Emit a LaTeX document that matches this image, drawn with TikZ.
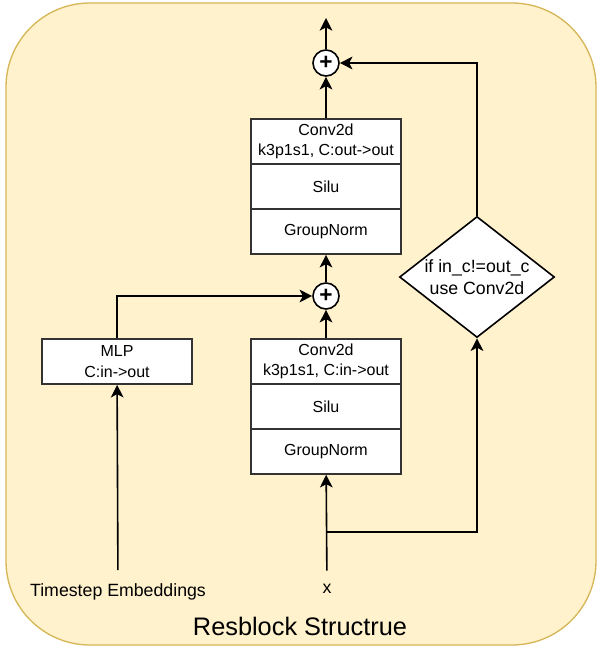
\documentclass[tikz,border=0pt]{standalone}
\usepackage{fontspec}
\setmainfont{Liberation Sans}
\usetikzlibrary{arrows.meta,shapes.geometric}
\definecolor{bgfill}{HTML}{FFF2CC}
\definecolor{bgline}{HTML}{D6B656}
\definecolor{boxline}{HTML}{333333}
\begin{document}
\begin{tikzpicture}
[   x=0.75pt,y=-0.75pt,
    every node/.style={font=\fontsize{12}{15.5}\selectfont},
    blk/.style={draw=boxline,fill=white,line width=1.2pt,minimum width=112.5pt,minimum height=33.75pt,inner sep=0pt,align=center},
    sum/.style={draw=black,fill=white,line width=1.2pt,circle,minimum size=19.5pt,inner sep=0pt,font=\fontsize{17}{17}\bfseries},
    lbl/.style={inner sep=10pt,font=\fontsize{13.3}{16}\selectfont},
    arr/.style={line width=1.2pt,-{Stealth[length=9.5pt,width=9.5pt,inset=2.5pt]}},
]
    \useasboundingbox (0,0) rectangle (601,649);
    \draw[draw=bgline,fill=bgfill,line width=1pt,rounded corners=63pt] (6,3) rectangle (596,645);
    \foreach \n/\y/\c in {1/339/in,2/119/out}
    {   \node[blk] (conv-\n) at (326,{\y+22.5}) {Conv2d\\k3p1s1, C:\c->out};
        \node[blk] (silu-\n) at (326,{\y+67.5}) {Silu};
        \node[blk] (norm-\n) at (326,{\y+112.5}) {GroupNorm};
    }
    \node[blk] (mlp) at (117,361.5) {MLP\\C:in->out};
    \node[sum] (p-1) at (326,296) {+};
    \node[sum] (p-2) at (326,63) {+};
    \node[diamond,shape aspect=1.28,draw=black,fill=white,line width=1.2pt,minimum width=116.25pt,minimum height=90.75pt,inner sep=0pt,align=center,font=\fontsize{13.3}{17}\selectfont] (cond) at (477,277) {if in\_c!=out\_c\\use Conv2d};
    \node[lbl] (ts) at (118,592) {Timestep Embeddings};
    \node[lbl] (x) at (327,589) {x};
    \node[font=\fontsize{19}{19}\selectfont] (title) at (300,626) {Resblock Structrue};
    \coordinate (br) at (327,532);
    \coordinate (out) at (326,18);
    % connectors
    \draw[arr] (ts) -- (mlp);
    \draw[arr] (x) -- (norm-1);
    \draw[arr] (br) -| (cond);
    \draw[arr] (mlp) |- (p-1);
    \draw[arr] (conv-1) -- (p-1);
    \draw[arr] (p-1) -- (norm-2);
    \draw[arr] (conv-2) -- (p-2);
    \draw[arr] (cond) |- (p-2);
    \draw[arr] (p-2) -- (out);
\end{tikzpicture}
\end{document}
